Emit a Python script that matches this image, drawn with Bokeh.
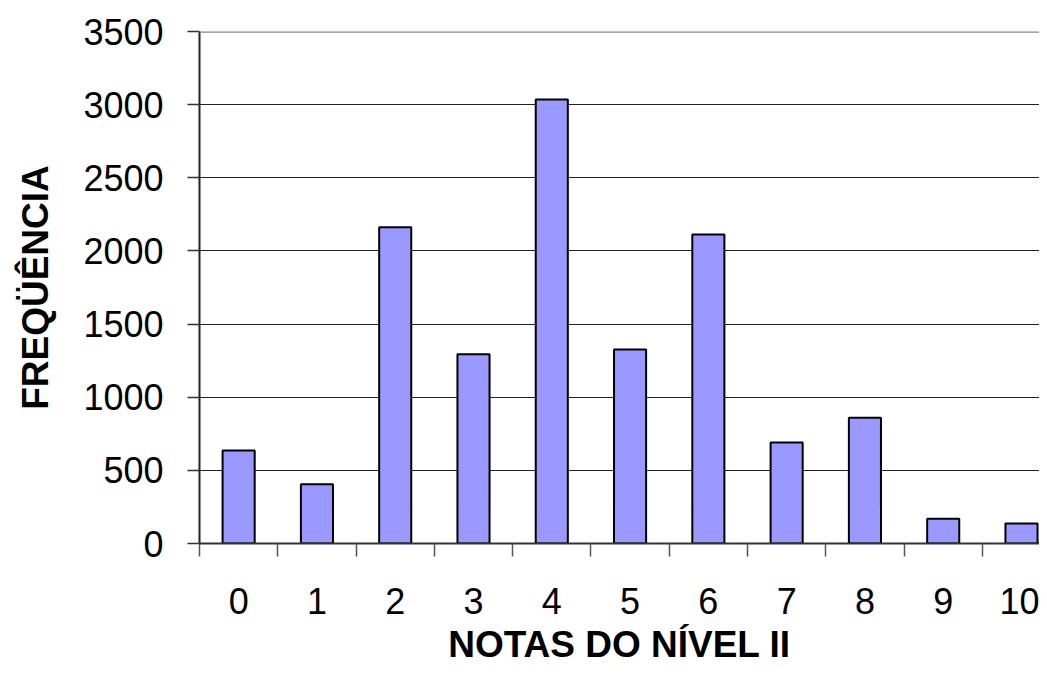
from bokeh.plotting import figure
from bokeh.models import FixedTicker, Span, Range1d, ColumnDataSource
from bokeh.embed import file_html
from bokeh.resources import INLINE

categories = ["0", "1", "2", "3", "4", "5", "6", "7", "8", "9", "10"]
frequencies = [636, 405, 2162, 1294, 3035, 1326, 2112, 690, 859, 169, 137]
y_ticks = [0, 500, 1000, 1500, 2000, 2500, 3000, 3500]
x_title = "NOTAS DO NÍVEL II"
y_title = "FREQÜÊNCIA"

positions = list(range(len(categories)))
boundaries = [i - 0.5 for i in range(len(categories) + 1)]

src = ColumnDataSource(dict(x=positions, top=frequencies, label=categories))

FONT = "Liberation Sans"

p = figure(width=1039, height=668, output_backend="svg", toolbar_location=None,
           x_range=Range1d(-0.5, 10.23), y_range=Range1d(0, y_ticks[-1]),
           min_border_left=199, min_border_right=0, min_border_top=31,
           min_border_bottom=125)
p.outline_line_color = None
p.background_fill_color = "white"
p.border_fill_color = "white"

p.vbar(x="x", top="top", bottom=0, width=0.41, source=src,
       fill_color="#9999FF", line_color="black", line_width=2)

p.xgrid.visible = False
p.ygrid.ticker = FixedTicker(ticks=y_ticks[1:-1])
p.ygrid.grid_line_color = "#222222"
p.ygrid.grid_line_width = 1
p.add_layout(Span(location=y_ticks[-1], dimension="width",
                  line_color="#888888", line_width=2.5))

# x axis
xa = p.xaxis[0]
xa.ticker = FixedTicker(ticks=positions, minor_ticks=boundaries)
xa.major_label_overrides = {i: c for i, c in zip(positions, categories)}
xa.major_tick_out = 0
xa.major_tick_in = 0
xa.minor_tick_out = 13
xa.minor_tick_in = 0
xa.minor_tick_line_color = "#555555"
xa.minor_tick_line_width = 1.5
xa.axis_line_color = "#333333"
xa.axis_line_width = 2
xa.major_label_text_font = FONT
xa.major_label_text_font_size = "36px"
xa.major_label_text_color = "black"
xa.major_label_standoff = 31
xa.axis_label = x_title
xa.axis_label_text_font = FONT
xa.axis_label_text_font_size = "37px"
xa.axis_label_text_font_style = "bold"
xa.axis_label_text_color = "black"
xa.axis_label_standoff = 7

# y axis
ya = p.yaxis[0]
ya.ticker = FixedTicker(ticks=y_ticks)
ya.major_tick_out = 12
ya.major_tick_in = 0
ya.minor_tick_out = 0
ya.minor_tick_in = 0
ya.major_tick_line_color = "#333333"
ya.major_tick_line_width = 1.5
ya.axis_line_color = "#222222"
ya.axis_line_width = 2
ya.major_label_text_font = FONT
ya.major_label_text_font_size = "36px"
ya.major_label_text_color = "black"
ya.major_label_standoff = 24
ya.axis_label = y_title
ya.axis_label_text_font = FONT
ya.axis_label_text_font_size = "37px"
ya.axis_label_text_font_style = "bold"
ya.axis_label_text_color = "black"
ya.axis_label_standoff = 24

open("out.html", "w").write(file_html(p, INLINE))
